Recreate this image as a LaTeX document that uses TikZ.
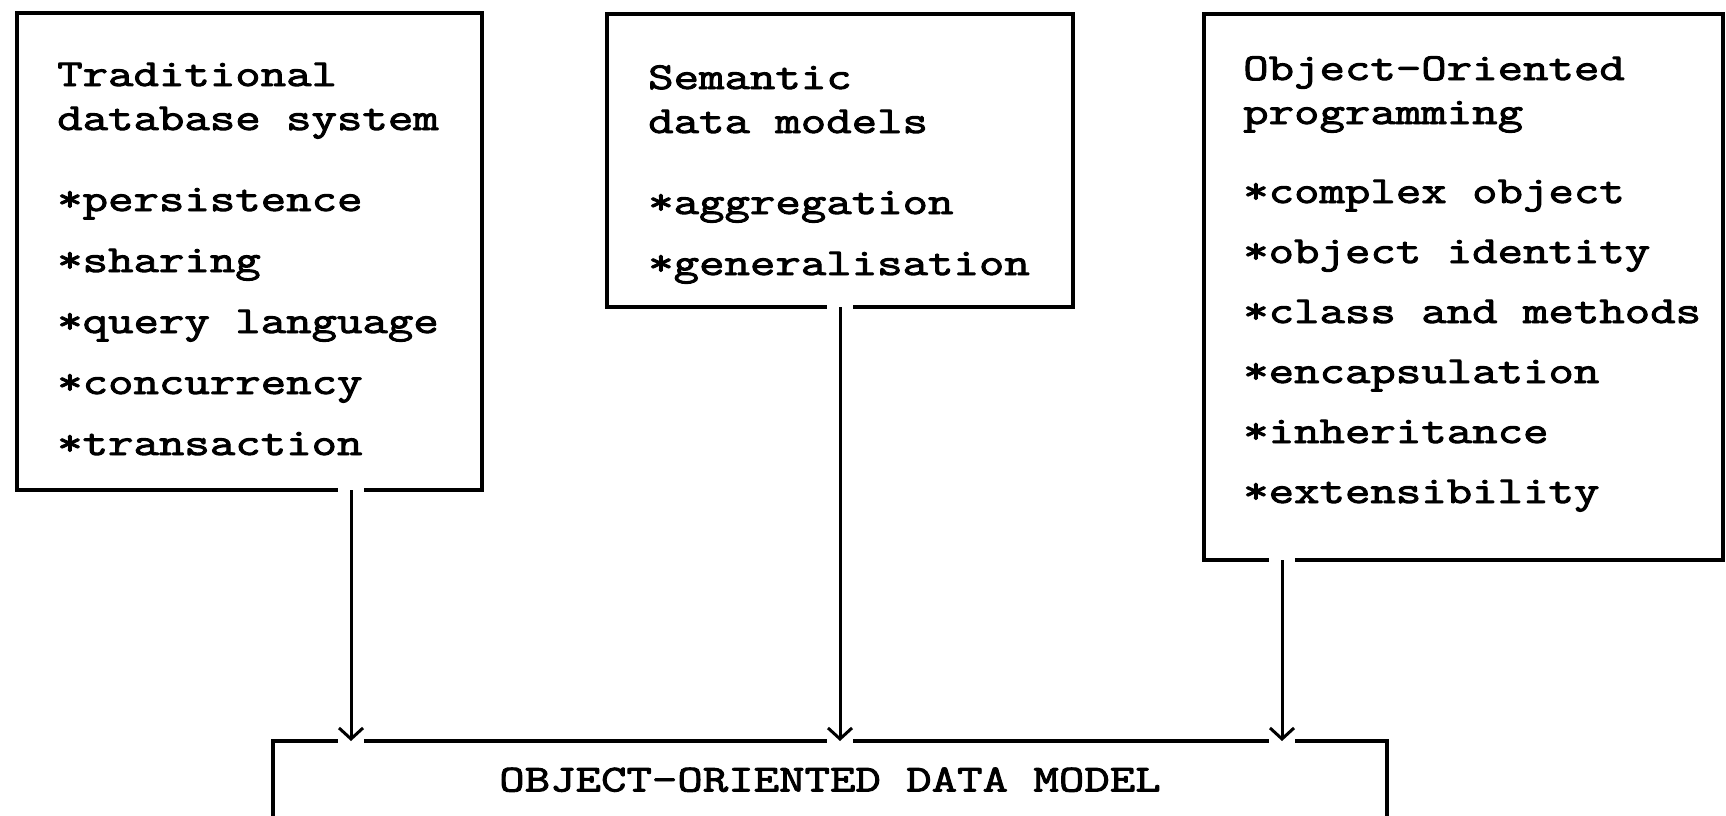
\documentclass[tikz,border=0pt]{standalone}
\usepackage{fontspec}
\setmonofont{Latin Modern Mono}[FakeStretch=1.3, FakeBold=2.5]
\usetikzlibrary{positioning,arrows.meta}

\tikzset{
  box/.style={draw, line width=3.5pt, anchor=north west, inner sep=0pt, outer sep=0pt},
  list/.style={anchor=base west, align=left, inner sep=0pt,
    font=\ttfamily\fontsize{38pt}{44pt}\selectfont},
  flow/.style={-{Straight Barb[length=11pt,width=24pt,line width=3pt]}, line width=3pt,
    preaction={draw=white, -, line width=26pt, shorten <=-4pt, shorten >=-4pt}},
}

\begin{document}
\begin{tikzpicture}[x=1pt, y=-1pt]
  \useasboundingbox (0,0) rectangle (1726,816);

  % the three sources
  \node[box, minimum width=465pt, minimum height=477pt] (tds) at (17,13) {};
  \node[box, minimum width=466pt, minimum height=293pt] (sdm) at (607,14) {};
  \node[box, minimum width=519pt, minimum height=546pt] (oop) at (1204,14) {};

  % lists sit on the baseline of their last line
  \node[list] (tds-text) at (57,455) {Traditional\\database system\\[37pt]
    *persistence\\[17pt]*sharing\\[17pt]*query language\\[17pt]
    *concurrency\\[17pt]*transaction};
  \node[list] (sdm-text) at (648,275) {Semantic\\data models\\[37pt]
    *aggregation\\[17pt]*generalisation};
  \node[list] (oop-text) at (1243,503) {Object-Oriented\\programming\\[35pt]
    *complex object\\[16pt]*object identity\\[16pt]*class and methods\\[16pt]
    *encapsulation\\[16pt]*inheritance\\[16pt]*extensibility};

  % the resulting model (bottom edge runs off the page)
  \node[box, minimum width=1114pt, minimum height=77pt, text depth=-4pt,
        font=\ttfamily\fontsize{38pt}{44pt}\selectfont] (oodm) at (273,741)
        {OBJECT-ORIENTED DATA MODEL};

  % arrows leave the boxes off centre
  \coordinate (tds-out) at ([xshift=101.5pt]tds.south);
  \coordinate (oop-out) at ([xshift=-181.5pt]oop.south);
  \draw[flow] (tds-out) -- (tds-out |- oodm.north);
  \draw[flow] (sdm.south) -- (sdm.south |- oodm.north);
  \draw[flow] (oop-out) -- (oop-out |- oodm.north);
\end{tikzpicture}
\end{document}
